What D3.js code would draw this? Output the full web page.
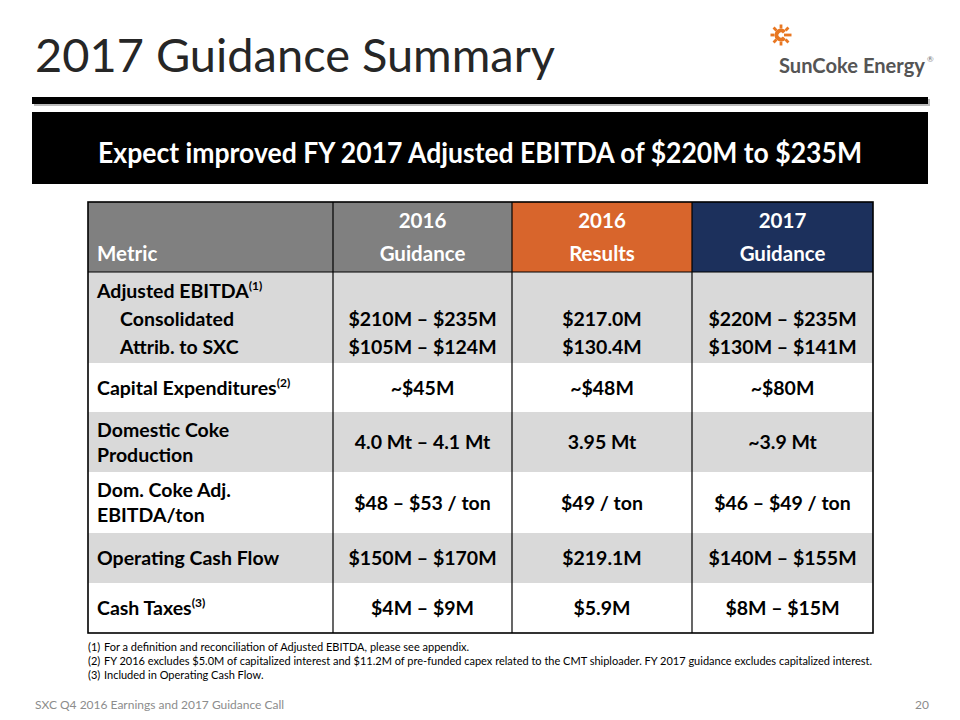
<!DOCTYPE html>
<html><head><meta charset="utf-8">
<script src="https://cdn.jsdelivr.net/npm/d3@7"></script>
<style>
html,body{margin:0;padding:0;background:#fff;}
svg{display:block;font-family:Lato,"Open Sans",sans-serif;}
</style></head>
<body>
<svg id="c" width="960" height="720"></svg>
<script>
const titleText = "2017 Guidance Summary";
const bannerText = "Expect improved FY 2017 Adjusted EBITDA of $220M to $235M";
const columnKeys = ["metric", "g2016", "r2016", "g2017"];
const headerTop = ["", "2016", "2016", "2017"];
const headerBottom = ["Metric", "Guidance", "Results", "Guidance"];
const metricLines = [
  [{t:"Adjusted EBITDA", sup:"(1)"}, {t:"Consolidated", indent:true}, {t:"Attrib. to SXC", indent:true}],
  [{t:"Capital Expenditures", sup:"(2)"}],
  [{t:"Domestic Coke"}, {t:"Production"}],
  [{t:"Dom. Coke Adj."}, {t:"EBITDA/ton"}],
  [{t:"Operating Cash Flow"}],
  [{t:"Cash Taxes", sup:"(3)"}]
];
const guidance2016 = [["", "$210M – $235M", "$105M – $124M"], ["~$45M"], ["4.0 Mt – 4.1 Mt"], ["$48 – $53 / ton"], ["$150M – $170M"], ["$4M – $9M"]];
const results2016 = [["", "$217.0M", "$130.4M"], ["~$48M"], ["3.95 Mt"], ["$49 / ton"], ["$219.1M"], ["$5.9M"]];
const guidance2017 = [["", "$220M – $235M", "$130M – $141M"], ["~$80M"], ["~3.9 Mt"], ["$46 – $49 / ton"], ["$140M – $155M"], ["$8M – $15M"]];
const rowHeights = [91, 49, 60, 61, 50, 50];
const footnotes = [
  ["(1)", "For a definition and reconciliation of Adjusted EBITDA, please see appendix."],
  ["(2)", "FY 2016 excludes $5.0M of capitalized interest and $11.2M of pre-funded capex related to the CMT shiploader.  FY 2017 guidance excludes capitalized interest."],
  ["(3)", "Included in Operating Cash Flow."]
];
const footerText = "SXC Q4 2016 Earnings and 2017 Guidance Call";
const pageNumber = "20";

const svg = d3.select("#c");

// Title
svg.append("text").attr("x", 35).attr("y", 72).attr("font-size", 46).attr("fill", "#262626")
  .attr("textLength", 520).attr("lengthAdjust", "spacingAndGlyphs").text(titleText);

// Logo
const logo = svg.append("g").attr("transform", "translate(781,35)");
const orange = "#e87722";
d3.range(8).forEach(i => {
  const a = i * Math.PI / 4;
  logo.append("line").attr("x1", Math.cos(a) * (i === 0 ? 3 : 6.5)).attr("y1", Math.sin(a) * 6.5)
    .attr("x2", Math.cos(a) * 10.5).attr("y2", Math.sin(a) * 10.5)
    .attr("stroke", orange).attr("stroke-width", 2.8);
});
logo.append("path").attr("d", d3.arc().innerRadius(2.5).outerRadius(6.5).startAngle(Math.PI * 0.5 + 0.7).endAngle(Math.PI * 2.5 - 0.7)())
  .attr("fill", orange);
svg.append("text").attr("x", 779).attr("y", 73).attr("font-size", 20).attr("font-weight", 700)
  .attr("fill", "#555").attr("textLength", 146).attr("lengthAdjust", "spacingAndGlyphs").text("SunCoke Energy");
svg.append("text").attr("x", 927).attr("y", 62).attr("font-size", 8).attr("fill", "#777").text("®");

// Black rule and banner
svg.append("rect").attr("x", 34).attr("y", 99).attr("width", 896).attr("height", 7).attr("fill", "#bbb");
svg.append("rect").attr("x", 32).attr("y", 97).attr("width", 896).attr("height", 7).attr("fill", "#000");
svg.append("rect").attr("x", 32).attr("y", 112).attr("width", 896).attr("height", 72).attr("fill", "#000");
svg.append("text").attr("x", 480).attr("y", 163).attr("text-anchor", "middle").attr("font-size", 28)
  .attr("font-weight", 700).attr("fill", "#fff").attr("textLength", 764).attr("lengthAdjust", "spacingAndGlyphs").text(bannerText);

// Table
const colEdges = [88, 333, 512, 692, 873];
const tableTop = 202, headerH = 70;
const x = d3.scaleOrdinal().domain(columnKeys).range(colEdges.slice(0, 4));
const w = k => colEdges[columnKeys.indexOf(k) + 1] - x(k);
const headerFills = ["#808080", "#808080", "#d8652c", "#1c305c"];
const rowTops = [];
rowHeights.reduce((acc, h) => { rowTops.push(acc); return acc + h; }, tableTop + headerH);
const tableBottom = rowTops[rowTops.length - 1] + rowHeights[rowHeights.length - 1];

const fs = 19.5;
// header cells
columnKeys.forEach((k, i) => {
  svg.append("rect").attr("x", x(k)).attr("y", tableTop).attr("width", w(k)).attr("height", headerH).attr("fill", headerFills[i]);
  if (headerTop[i]) svg.append("text").attr("x", x(k) + w(k) / 2).attr("y", 228).attr("text-anchor", "middle")
    .attr("font-size", fs + 1).attr("font-weight", 700).attr("fill", "#fff").text(headerTop[i]);
  svg.append("text").attr("x", i === 0 ? 97 : x(k) + w(k) / 2).attr("y", 261).attr("text-anchor", i === 0 ? "start" : "middle")
    .attr("font-size", fs + 1).attr("font-weight", 700).attr("fill", "#fff").text(headerBottom[i]);
});

// body rows
const valueCols = [null, guidance2016, results2016, guidance2017];
metricLines.forEach((lines, r) => {
  const top = rowTops[r], h = rowHeights[r];
  svg.append("rect").attr("x", colEdges[0]).attr("y", top).attr("width", colEdges[4] - colEdges[0]).attr("height", h)
    .attr("fill", r % 2 === 0 ? "#d9d9d9" : "#ffffff");
  const lineH = lines.length === 3 ? 28 : 25;
  const mid = top + h / 2;
  const firstBase = lines.length === 3 ? top + 26 : mid + 7 - (lines.length - 1) * lineH / 2;
  lines.forEach((ln, j) => {
    const t = svg.append("text").attr("x", ln.indent ? 120 : 97).attr("y", firstBase + j * lineH)
      .attr("font-size", fs).attr("font-weight", 700).attr("fill", "#000");
    t.append("tspan").text(ln.t);
    if (ln.sup) t.append("tspan").attr("dy", -8).attr("font-size", 12).text(ln.sup);
  });
  [1, 2, 3].forEach(c => {
    const vals = valueCols[c][r];
    const k = columnKeys[c];
    vals.forEach((v, j) => {
      if (!v) return;
      const base = vals.length === 3 ? firstBase + j * lineH : mid + 7;
      svg.append("text").attr("x", x(k) + w(k) / 2).attr("y", base).attr("text-anchor", "middle")
        .attr("font-size", fs).attr("font-weight", 700).attr("fill", "#000").text(v);
    });
  });
});

// grid lines
colEdges.slice(1, 4).forEach(cx => {
  svg.append("line").attr("x1", cx).attr("x2", cx).attr("y1", tableTop).attr("y2", tableBottom).attr("stroke", "#000").attr("stroke-width", 1.2);
});
svg.append("line").attr("x1", colEdges[0]).attr("x2", colEdges[4]).attr("y1", tableTop + headerH).attr("y2", tableTop + headerH).attr("stroke", "#000").attr("stroke-width", 1.2);
svg.append("rect").attr("x", colEdges[0]).attr("y", tableTop).attr("width", colEdges[4] - colEdges[0]).attr("height", tableBottom - tableTop)
  .attr("fill", "none").attr("stroke", "#000").attr("stroke-width", 1.6);

// footnotes
footnotes.forEach((f, i) => {
  const yy = 651 + i * 14;
  svg.append("text").attr("x", 88).attr("y", yy).attr("font-size", 11).attr("fill", "#000").text(f[0]);
  svg.append("text").attr("x", 104).attr("y", yy).attr("font-size", 11).attr("fill", "#000").text(f[1]);
});

// footer
svg.append("text").attr("x", 35).attr("y", 709).attr("font-size", 12).attr("fill", "#8c8c8c").text(footerText);
svg.append("text").attr("x", 929).attr("y", 709).attr("text-anchor", "end").attr("font-size", 12).attr("fill", "#8c8c8c").text(pageNumber);
</script>
</body></html>
